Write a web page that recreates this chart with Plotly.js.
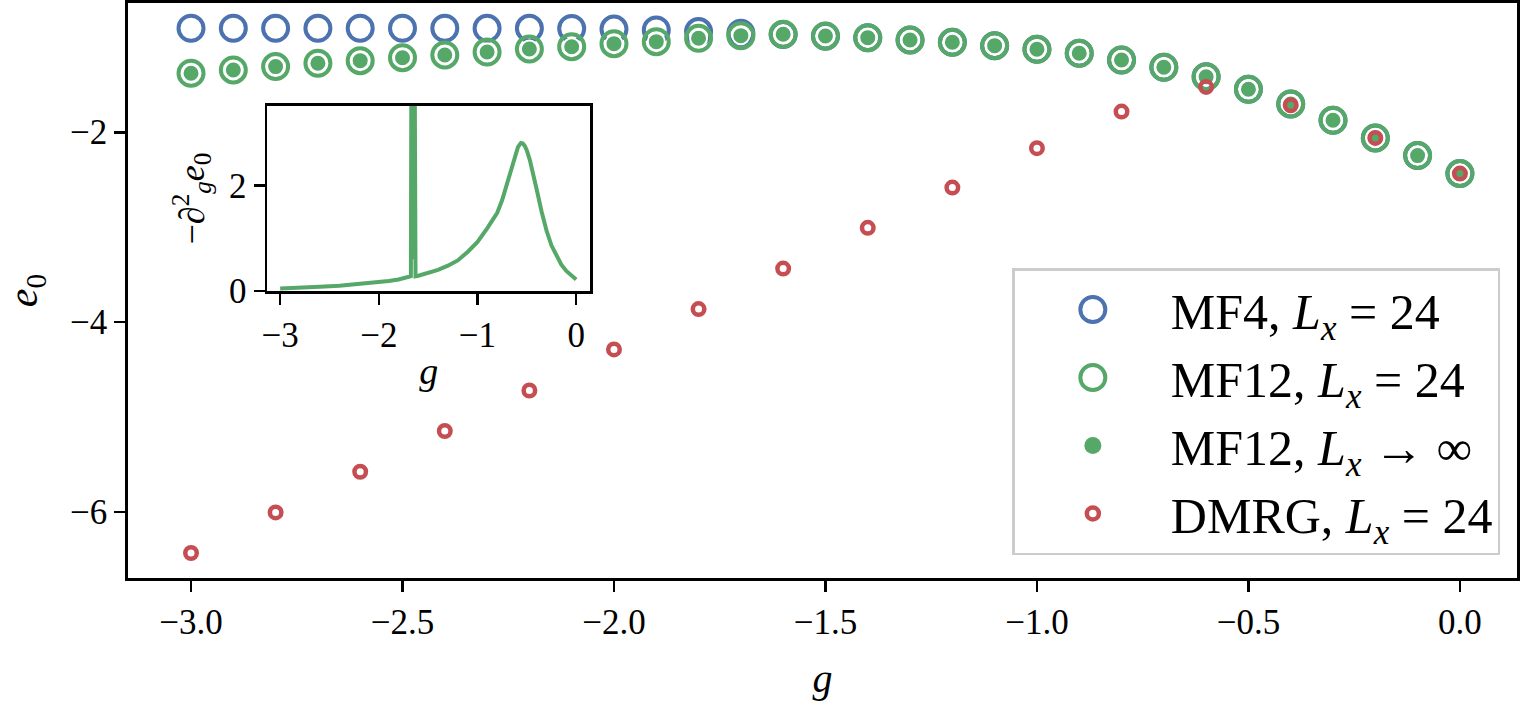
<!DOCTYPE html>
<html>
<head>
<meta charset="utf-8">
<script src="https://cdn.plot.ly/plotly-3.0.1.min.js"></script>
<style>html,body{margin:0;padding:0;background:#fff;}#chart{width:1526px;height:704px;}</style>
</head>
<body>
<div id="chart"></div>
<script>
// ---- data ----
const g_main = [-3.0,-2.9,-2.8,-2.7,-2.6,-2.5,-2.4,-2.3,-2.2,-2.1,-2.0,-1.9,-1.8,-1.7,-1.6,-1.5,-1.4,-1.3,-1.2,-1.1,-1.0,-0.9,-0.8,-0.7,-0.6,-0.5,-0.4,-0.3,-0.2,-0.1,0.0];
const e0_mf4 = [-0.905,-0.905,-0.905,-0.905,-0.905,-0.905,-0.905,-0.906,-0.906,-0.907,-0.914,-0.923,-0.940,-0.957,-0.972,-0.988,-1.004,-1.028,-1.053,-1.088,-1.126,-1.168,-1.239,-1.316,-1.415,-1.547,-1.702,-1.874,-2.060,-2.246,-2.436];
const e0_mf12 = [-1.379,-1.344,-1.309,-1.274,-1.246,-1.215,-1.186,-1.155,-1.123,-1.099,-1.067,-1.046,-1.011,-0.983,-0.968,-0.986,-1.004,-1.028,-1.053,-1.088,-1.126,-1.168,-1.239,-1.316,-1.415,-1.547,-1.702,-1.874,-2.060,-2.246,-2.436];
const e0_mf12_inf = [-1.379,-1.344,-1.309,-1.274,-1.246,-1.215,-1.186,-1.155,-1.123,-1.099,-1.067,-1.046,-1.011,-0.983,-0.968,-0.986,-1.004,-1.028,-1.053,-1.088,-1.126,-1.168,-1.239,-1.316,-1.415,-1.547,-1.702,-1.874,-2.060,-2.246,-2.436];
const g_dmrg = [-3.0,-2.8,-2.6,-2.4,-2.2,-2.0,-1.8,-1.6,-1.4,-1.2,-1.0,-0.8,-0.6,-0.4,-0.2,0.0];
const e0_dmrg = [-6.432,-6.004,-5.576,-5.147,-4.720,-4.288,-3.863,-3.436,-3.007,-2.583,-2.168,-1.783,-1.523,-1.716,-2.060,-2.436];

const g_inset = [-3.0,-2.8,-2.6,-2.4,-2.2,-2.0,-1.9,-1.8,-1.7,-1.675,-1.668,-1.655,-1.648,-1.640,-1.628,-1.6,-1.5,-1.4,-1.3,-1.2,-1.1,-1.0,-0.9,-0.8,-0.75,-0.7,-0.65,-0.62,-0.59,-0.56,-0.54,-0.52,-0.5,-0.47,-0.45,-0.4,-0.35,-0.3,-0.25,-0.2,-0.15,-0.1,-0.05,0.0];
const d2e_inset = [0.05,0.06,0.08,0.10,0.13,0.17,0.19,0.22,0.26,0.28,6.0,0.6,0.6,6.0,0.28,0.29,0.34,0.40,0.48,0.58,0.74,0.93,1.19,1.48,1.72,2.02,2.36,2.56,2.72,2.80,2.79,2.74,2.66,2.48,2.33,1.92,1.50,1.14,0.86,0.66,0.50,0.38,0.29,0.22];

const main_xticks = [-3.0,-2.5,-2.0,-1.5,-1.0,-0.5,0.0];
const main_yticks = [-6,-4,-2];
const inset_xticks = [-3,-2,-1,0];
const inset_yticks = [0,2];

const names = ["MF4, <i>L</i><sub><i>x</i></sub> = 24",
               "MF12, <i>L</i><sub><i>x</i></sub> = 24",
               "MF12, <i>L</i><sub><i>x</i></sub> → ∞",
               "DMRG, <i>L</i><sub><i>x</i></sub> = 24"];

// ---- styling ----
const BLUE = "#4C72B0", GREEN = "#55A868", RED = "#C44E52";
const FONT = "Liberation Serif, DejaVu Serif, serif";

const traces = [
  {x: g_main, y: e0_mf4, type: "scatter", mode: "markers", name: names[0], legendgroup: "a",
   marker: {symbol: "circle-open", size: 25, color: BLUE, line: {width: 4, color: BLUE}}},
  {x: g_main, y: e0_mf12, type: "scatter", mode: "markers", name: names[1], legendgroup: "b",
   marker: {symbol: "circle-open", size: 25, color: GREEN, line: {width: 4, color: GREEN}}},
  {x: g_main, y: e0_mf12_inf, type: "scatter", mode: "markers", name: names[2], legendgroup: "c",
   marker: {symbol: "circle", size: 17, color: GREEN, line: {width: 2, color: "#ffffff"}}},
  {x: g_dmrg, y: e0_dmrg, type: "scatter", mode: "markers", name: names[3], legendgroup: "d",
   marker: {symbol: "circle-open", size: 11.5, color: RED, line: {width: 4.5, color: RED}}},
  {x: g_inset, y: d2e_inset, type: "scatter", mode: "lines", xaxis: "x2", yaxis: "y2", showlegend: false,
   line: {color: GREEN, width: 4}}
];

const axisCommon = {
  showgrid: false, zeroline: false, showline: true, mirror: true,
  linecolor: "#000", linewidth: 2.8, ticks: "outside", ticklen: 11, tickwidth: 2.6, tickcolor: "#000",
  tickfont: {family: FONT, size: 35, color: "#000"}
};

const layout = {
  width: 1526, height: 704,
  margin: {l: 128, r: 9, t: 3, b: 126},
  paper_bgcolor: "#fff", plot_bgcolor: "#fff",
  font: {family: FONT, color: "#000"},
  showlegend: true,
  xaxis: Object.assign({}, axisCommon, {
    range: [-3.149, 0.135], tickvals: main_xticks, tickformat: ".1f",
    title: {text: "<i>g</i>", font: {family: FONT, size: 40}, standoff: 24}
  }),
  yaxis: Object.assign({}, axisCommon, {
    range: [-6.695, -0.639], tickvals: main_yticks,
    title: {text: "<i>e</i><sub>0</sub>", font: {family: FONT, size: 42}, standoff: 38}
  }),
  xaxis2: Object.assign({}, axisCommon, {
    domain: [0.1003, 0.3326], anchor: "y2", range: [-3.13, 0.14], tickvals: inset_xticks,
    title: {text: "<i>g</i>", font: {family: FONT, size: 38}, standoff: 4}
  }),
  yaxis2: Object.assign({}, axisCommon, {
    domain: [0.499, 0.821], anchor: "x2", range: [0, 3.5], tickvals: inset_yticks,
    title: {text: "−∂<sup>2</sup><sub><i>g</i></sub><i>e</i><sub>0</sub>", font: {family: FONT, size: 36}, standoff: 14}
  }),
  legend: {
    x: 0.988, xanchor: "right", y: 0.04, yanchor: "bottom",
    bgcolor: "#ffffff", bordercolor: "#cccccc", borderwidth: 2.5,
    font: {family: FONT, size: 50, color: "#000"},
    itemwidth: 146, tracegroupgap: 0, itemsizing: "trace"
  }
};

// legend symbol radii / stroke widths, as in the reference legend
const legendSymbol = [[12.5, 4], [12.5, 4], [8.5, 0], [6, 4.5]];

Plotly.newPlot("chart", traces, layout, {displayModeBar: false, staticPlot: true}).then(function (gd) {
  gd.querySelectorAll(".legend .traces").forEach(function (t, i) {
    const p = t.querySelector("path.scatterpts");
    if (!p || !legendSymbol[i]) return;
    const r = legendSymbol[i][0];
    p.setAttribute("d", "M" + r + ",0A" + r + "," + r + " 0 1,1 0,-" + r + "A" + r + "," + r + " 0 0,1 " + r + ",0Z");
    p.style.strokeWidth = legendSymbol[i][1] + "px";
  });
});
</script>
</body>
</html>
